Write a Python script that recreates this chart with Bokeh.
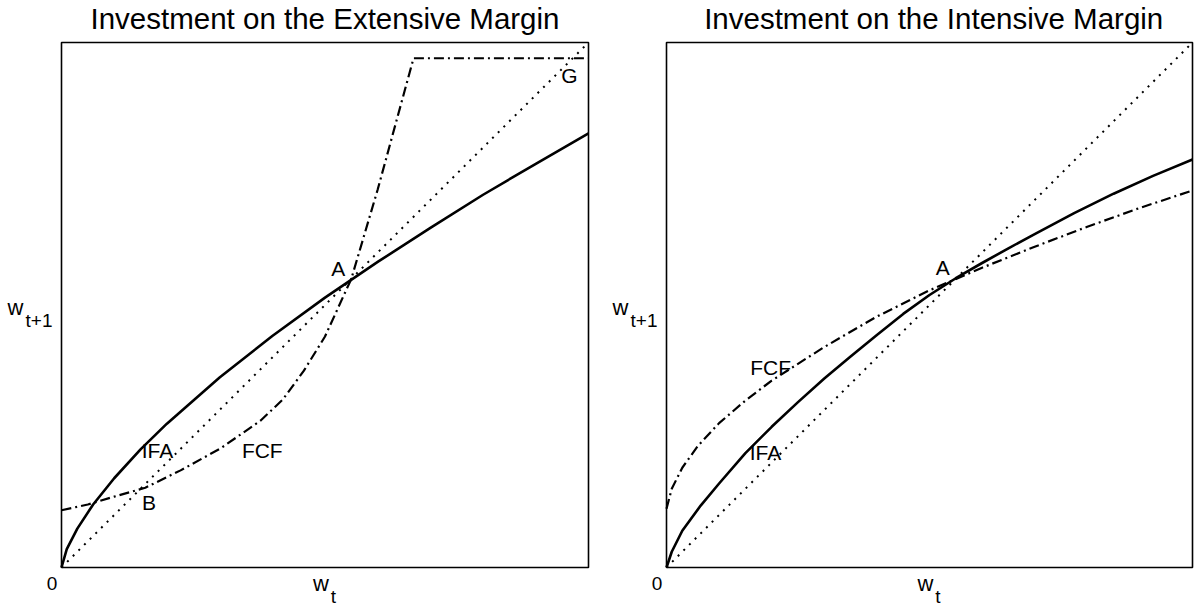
from bokeh.plotting import figure
from bokeh.models import Range1d, Label
from bokeh.layouts import row
from bokeh.embed import file_html
from bokeh.resources import INLINE

FONT = "Liberation Sans"

# ---------------- data (fractions of the axis range) -------------
diag_x = [0.0, 1.0]
diag_y = [0.0, 1.0]

# Left panel: extensive margin
ext_ifa_x = [0.0, 0.01, 0.03, 0.06, 0.10, 0.15, 0.20, 0.30, 0.40, 0.50, 0.60, 0.70, 0.80, 0.90, 1.00]
ext_ifa_y = [0.0, 0.035, 0.074, 0.120, 0.170, 0.225, 0.274, 0.362, 0.441, 0.514, 0.582, 0.647, 0.710, 0.769, 0.827]

ext_fcf_x = [0.0, 0.05, 0.10, 0.159, 0.226, 0.302, 0.378, 0.42, 0.46, 0.50, 0.55, 0.60, 0.668, 1.00]
ext_fcf_y = [0.109, 0.120, 0.135, 0.152, 0.185, 0.227, 0.280, 0.320, 0.375, 0.440, 0.550, 0.720, 0.970, 0.970]

# Right panel: intensive margin
int_ifa_x = [0.0, 0.01, 0.03, 0.065, 0.10, 0.15, 0.20, 0.25, 0.30, 0.35, 0.40, 0.45, 0.50,
             0.55, 0.60, 0.65, 0.70, 0.775, 0.85, 0.925, 1.00]
int_ifa_y = [0.0, 0.030, 0.070, 0.118, 0.160, 0.218, 0.268, 0.315, 0.360, 0.402, 0.443, 0.483, 0.519,
             0.551, 0.580, 0.608, 0.635, 0.675, 0.712, 0.746, 0.777]

int_fcf_x = [0.0, 0.01, 0.03, 0.06, 0.10, 0.15, 0.20, 0.30, 0.40, 0.50, 0.60, 0.70, 0.80, 0.90, 1.00]
int_fcf_y = [0.112, 0.150, 0.190, 0.232, 0.275, 0.318, 0.356, 0.420, 0.478, 0.528, 0.571, 0.611, 0.649, 0.685, 0.718]

titles = ["Investment on the Extensive Margin", "Investment on the Intensive Margin"]

H = 608


def lab(p, x, y, text, size, align="center"):
    p.add_layout(Label(x=x, y=y, text=text, text_font=FONT, text_font_size=size,
                       text_align=align, text_baseline="middle", text_color="black"))


def make_panel(width, box_left, box_w, title, title_x, ifa_x, ifa_y, fcf_x, fcf_y, labels):
    # frame covers the whole canvas; the axes box is [0,1] x [0,1]
    box_top, box_bottom = 42, 567
    box_h = box_bottom - box_top
    xr = Range1d(-box_left / box_w, (width - box_left) / box_w)
    yr = Range1d(-(H - box_bottom) / box_h, box_bottom / box_h)
    p = figure(width=width, height=H, x_range=xr, y_range=yr,
               output_backend="svg", toolbar_location=None,
               x_axis_type=None, y_axis_type=None,
               min_border_left=0, min_border_right=0,
               min_border_top=0, min_border_bottom=0)
    p.outline_line_color = None
    p.background_fill_color = "white"
    p.border_fill_color = "white"

    p.line(diag_x, diag_y, line_color="black", line_width=2, line_dash="2 6")
    p.line(fcf_x, fcf_y, line_color="black", line_width=2.2, line_dash="10 4 2 4")
    p.line(ifa_x, ifa_y, line_color="black", line_width=2.6, line_join="round")
    p.quad(left=[0], right=[1], bottom=[0], top=[1], fill_color=None,
           line_color="black", line_width=1.6)

    lab(p, title_x, 1.0461, title, "29.5px")
    for (tx, ty, txt) in labels:
        lab(p, tx, ty, txt, "21px")
    # axis labels
    lab(p, -0.018, -0.031, "0", "19px")
    lab(p, -0.1025, 0.4945, "w", "22px", "left")
    lab(p, -0.0683, 0.4697, "t+1", "19px", "left")
    lab(p, 0.477, -0.0312, "w", "22px", "left")
    lab(p, 0.511, -0.056, "t", "19px", "left")
    return p


p1 = make_panel(606, 61, 527, titles[0], 0.5, ext_ifa_x, ext_ifa_y, ext_fcf_x, ext_fcf_y,
                [(0.525, 0.570, "A"), (0.166, 0.124, "B"), (0.182, 0.222, "IFA"),
                 (0.381, 0.223, "FCF"), (0.964, 0.938, "G")])
p2 = make_panel(588, 60, 526, titles[1], 0.508, int_ifa_x, int_ifa_y, int_fcf_x, int_fcf_y,
                [(0.525, 0.571, "A"), (0.198, 0.381, "FCF"), (0.188, 0.219, "IFA")])

layout = row(p1, p2)
open("out.html", "w").write(file_html(layout, INLINE))
